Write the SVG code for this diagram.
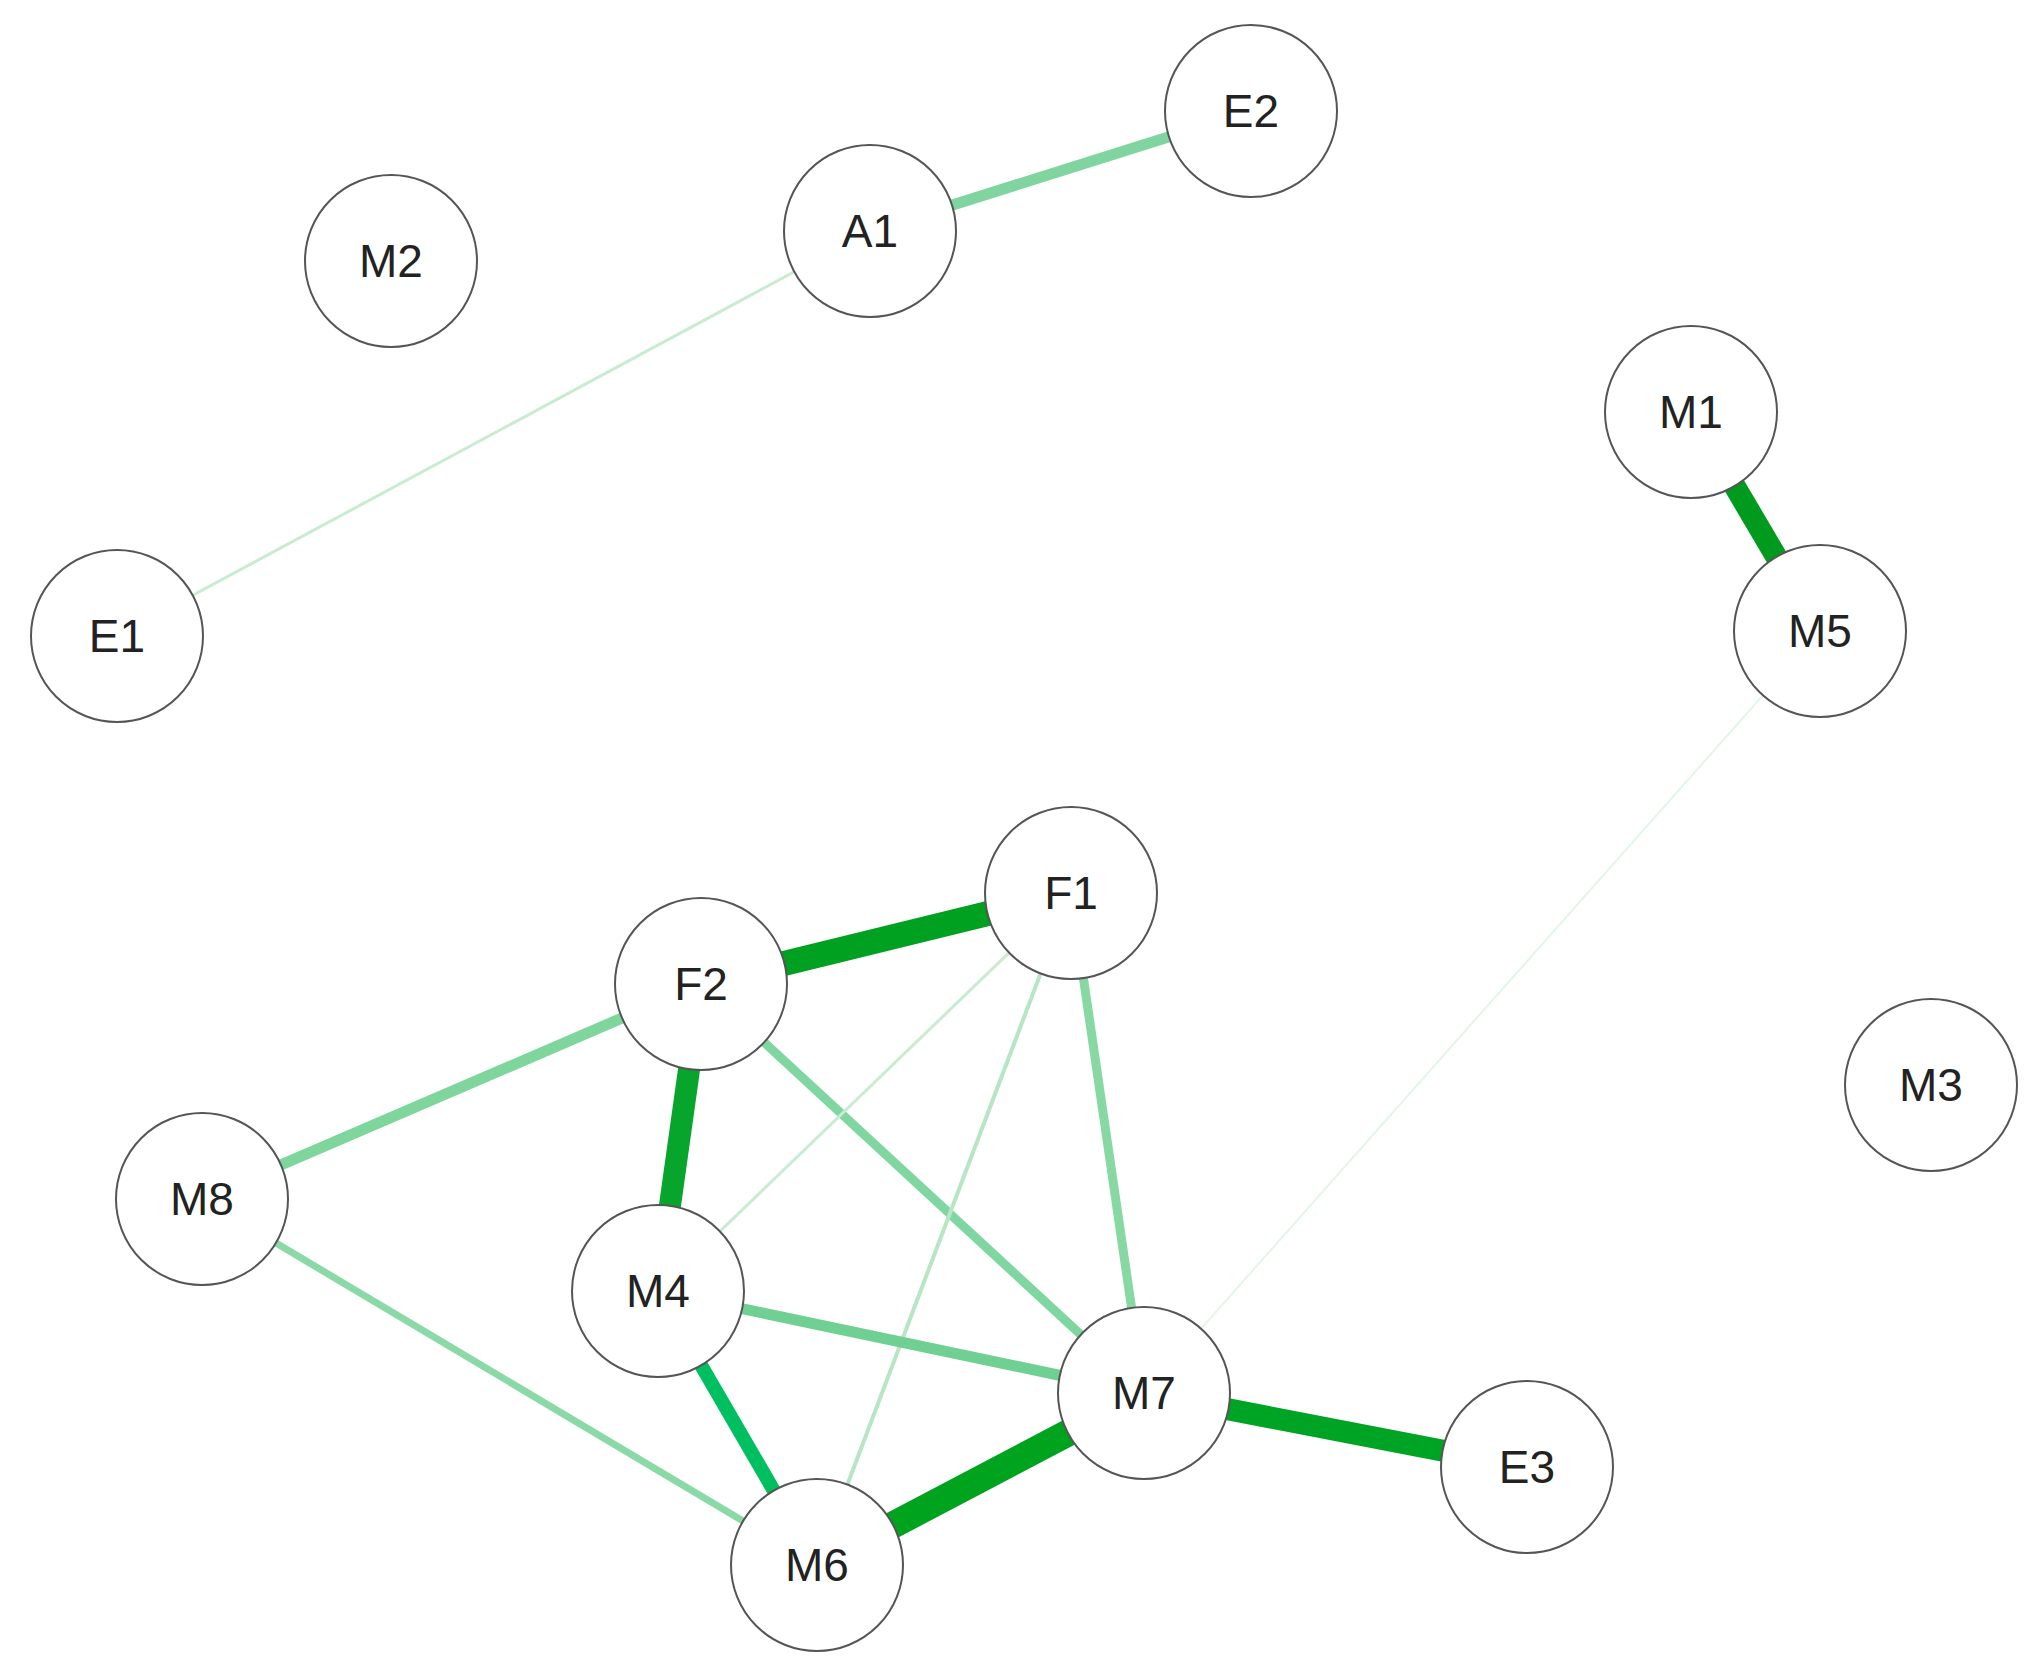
<svg xmlns="http://www.w3.org/2000/svg" width="2043" height="1669" viewBox="0 0 2043 1669">
<style>
.n circle{fill:#fff;stroke:#555;stroke-width:2}
.n text{font-family:"Liberation Sans",Arial,sans-serif;font-size:46px;fill:#222;text-anchor:middle;dominant-baseline:central}
#edges line{stroke-linecap:butt}
</style>
<rect width="2043" height="1669" fill="#fff"/>
<g id="edges">
<line x1="870" y1="231" x2="1251" y2="111" stroke="#7fd4a0" stroke-width="11"/>
<line x1="870" y1="231" x2="117" y2="636" stroke="#c8ecd2" stroke-width="3"/>
<line x1="1691" y1="412" x2="1820" y2="631" stroke="#009a1e" stroke-width="22"/>
<line x1="1820" y1="631" x2="1144" y2="1393" stroke="#e3f5e7" stroke-width="2"/>
<line x1="1071" y1="893" x2="701" y2="984" stroke="#00a020" stroke-width="25"/>
<line x1="701" y1="984" x2="202" y2="1199" stroke="#7ed69c" stroke-width="11"/>
<line x1="701" y1="984" x2="658" y2="1291" stroke="#07a52b" stroke-width="22"/>
<line x1="701" y1="984" x2="1144" y2="1393" stroke="#80d6a0" stroke-width="9"/>
<line x1="1071" y1="893" x2="658" y2="1291" stroke="#c8ecd2" stroke-width="3"/>
<line x1="1071" y1="893" x2="817" y2="1565" stroke="#b6e6c4" stroke-width="4"/>
<line x1="1071" y1="893" x2="1144" y2="1393" stroke="#88d8a4" stroke-width="9"/>
<line x1="658" y1="1291" x2="1144" y2="1393" stroke="#70cf92" stroke-width="11"/>
<line x1="658" y1="1291" x2="817" y2="1565" stroke="#00bf60" stroke-width="14"/>
<line x1="202" y1="1199" x2="817" y2="1565" stroke="#8ad9a6" stroke-width="7"/>
<line x1="1144" y1="1393" x2="817" y2="1565" stroke="#00a31e" stroke-width="27"/>
<line x1="1144" y1="1393" x2="1527" y2="1467" stroke="#00a424" stroke-width="22"/>
</g>
<g id="E2" class="n"><circle cx="1251" cy="111" r="86"/><text x="1251" y="111">E2</text></g>
<g id="A1" class="n"><circle cx="870" cy="231" r="86"/><text x="870" y="231">A1</text></g>
<g id="M2" class="n"><circle cx="391" cy="261" r="86"/><text x="391" y="261">M2</text></g>
<g id="M1" class="n"><circle cx="1691" cy="412" r="86"/><text x="1691" y="412">M1</text></g>
<g id="E1" class="n"><circle cx="117" cy="636" r="86"/><text x="117" y="636">E1</text></g>
<g id="M5" class="n"><circle cx="1820" cy="631" r="86"/><text x="1820" y="631">M5</text></g>
<g id="F1" class="n"><circle cx="1071" cy="893" r="86"/><text x="1071" y="893">F1</text></g>
<g id="F2" class="n"><circle cx="701" cy="984" r="86"/><text x="701" y="984">F2</text></g>
<g id="M3" class="n"><circle cx="1931" cy="1085" r="86"/><text x="1931" y="1085">M3</text></g>
<g id="M8" class="n"><circle cx="202" cy="1199" r="86"/><text x="202" y="1199">M8</text></g>
<g id="M4" class="n"><circle cx="658" cy="1291" r="86"/><text x="658" y="1291">M4</text></g>
<g id="M7" class="n"><circle cx="1144" cy="1393" r="86"/><text x="1144" y="1393">M7</text></g>
<g id="E3" class="n"><circle cx="1527" cy="1467" r="86"/><text x="1527" y="1467">E3</text></g>
<g id="M6" class="n"><circle cx="817" cy="1565" r="86"/><text x="817" y="1565">M6</text></g>
</svg>
